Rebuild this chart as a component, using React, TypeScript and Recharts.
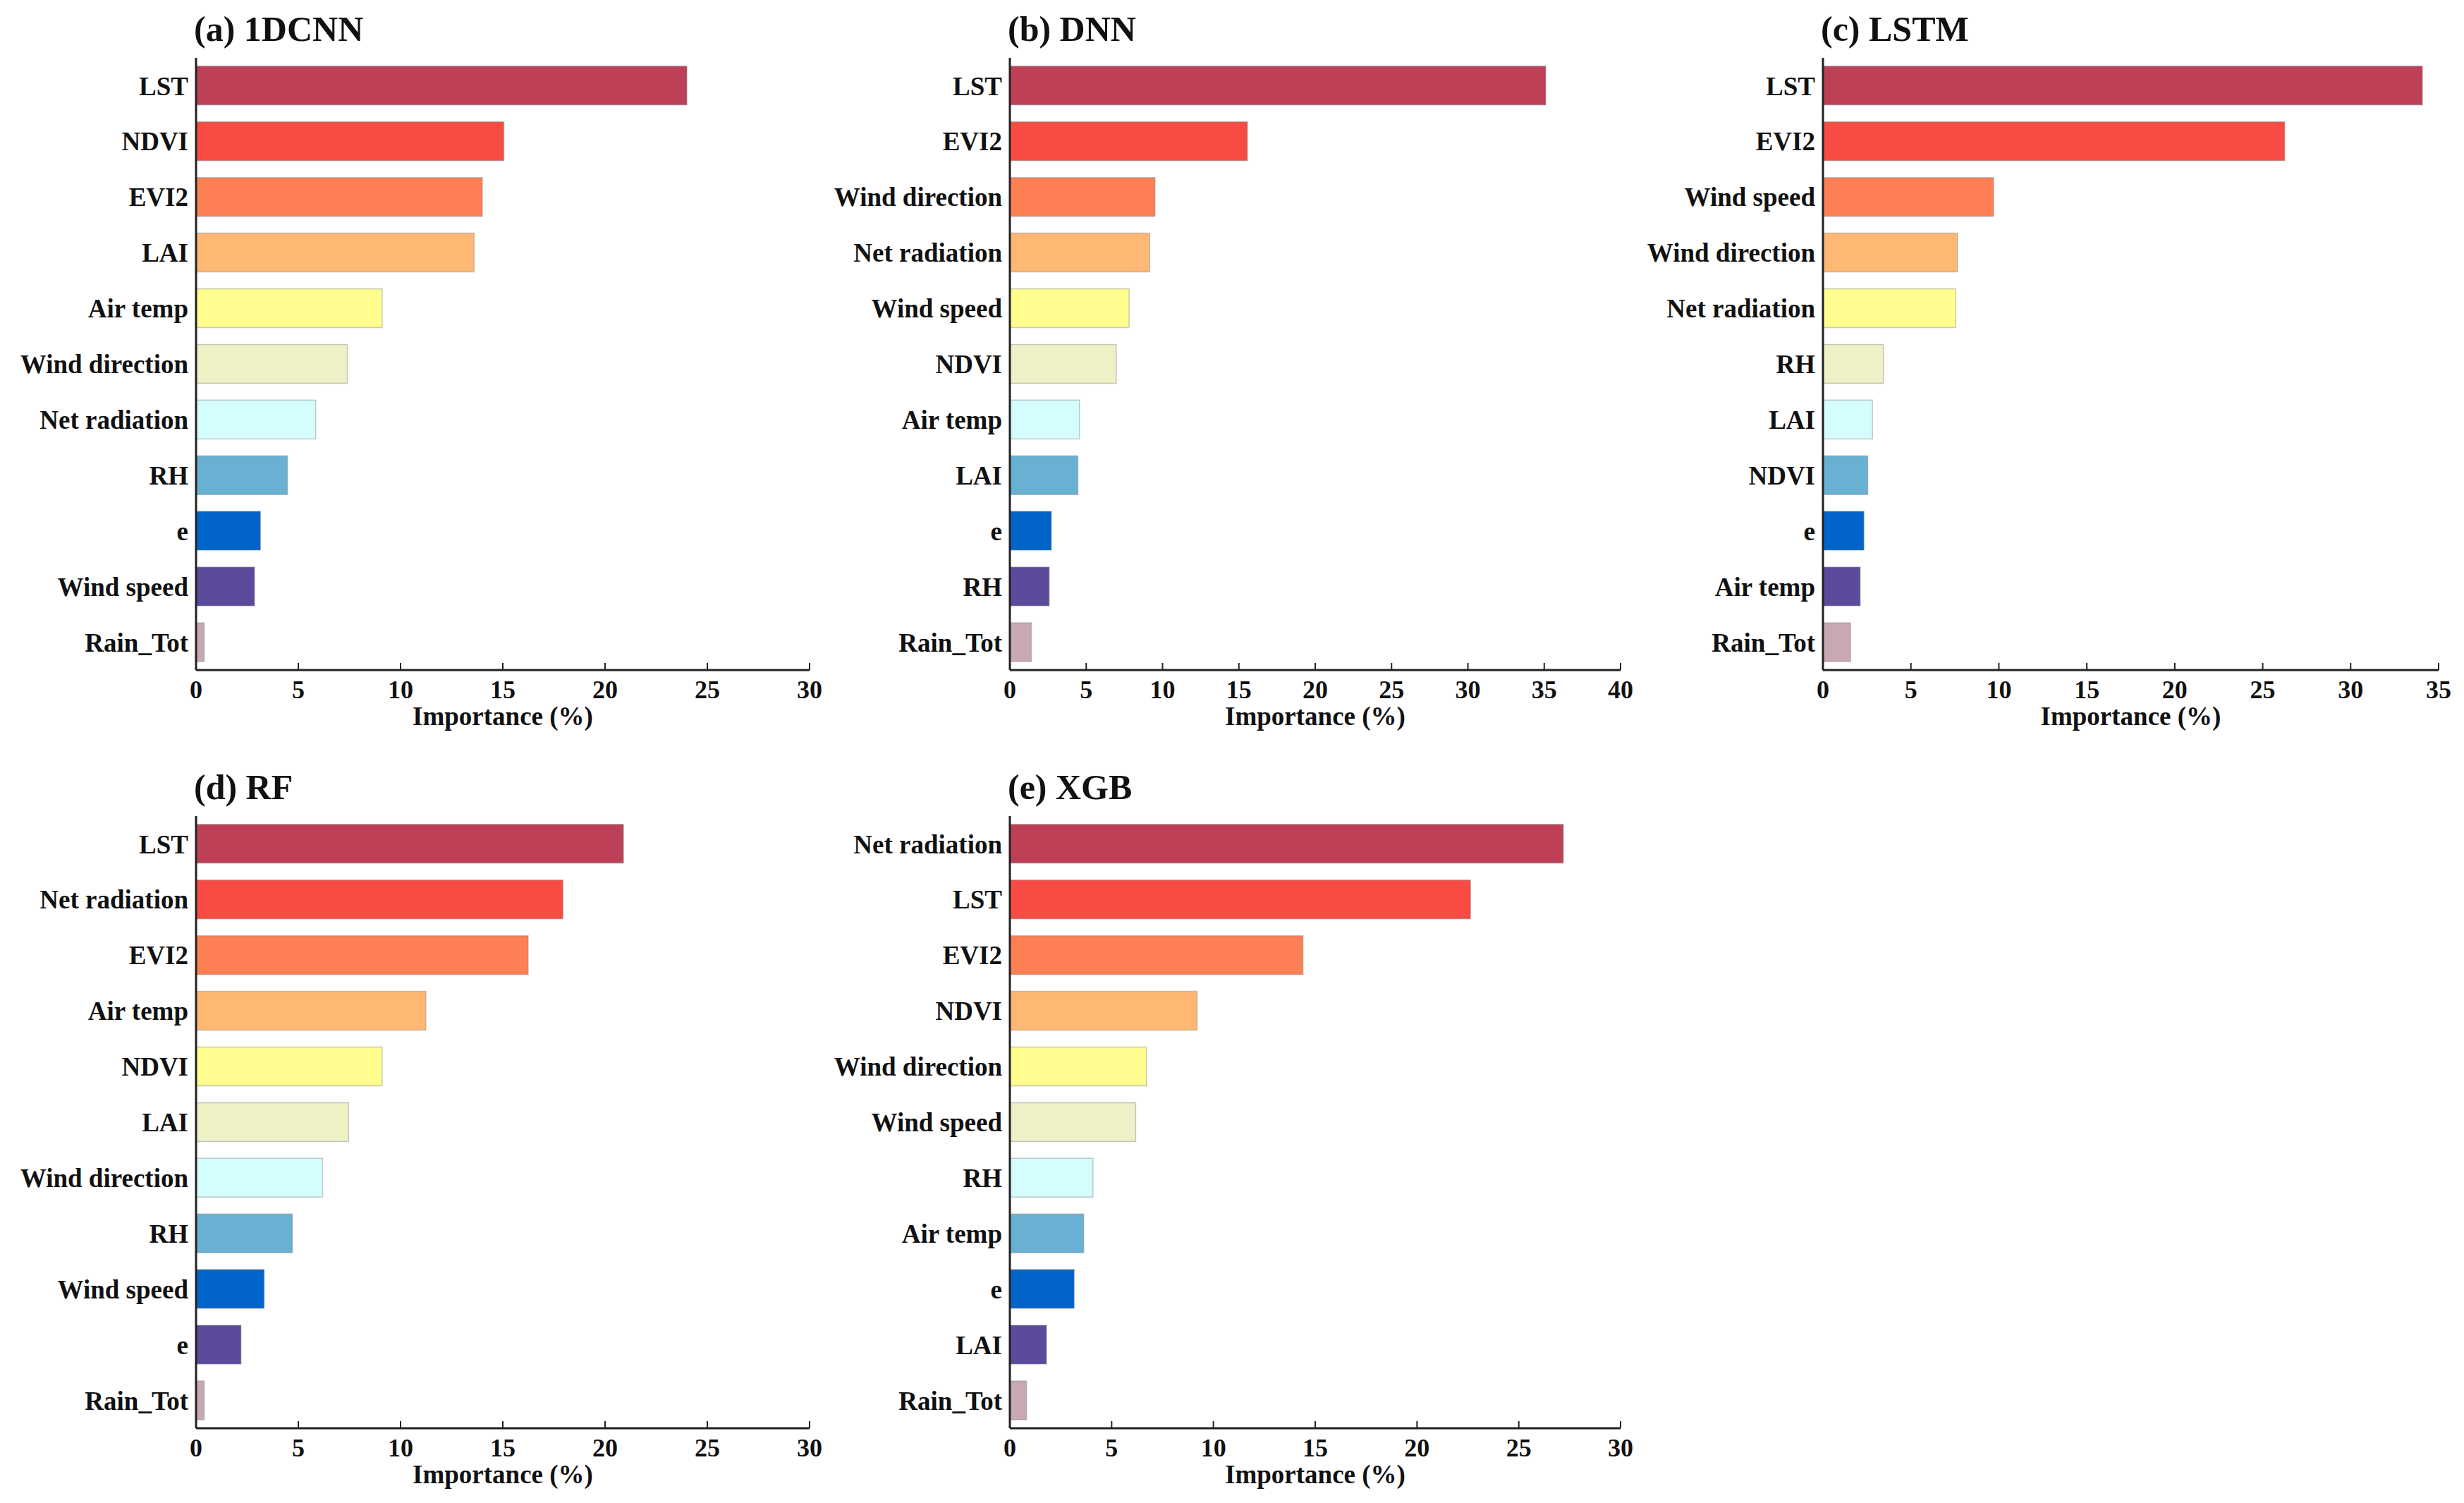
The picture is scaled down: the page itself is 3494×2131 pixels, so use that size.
import React from 'react';
import { BarChart, Bar, XAxis, YAxis, Cell, Label } from 'recharts';

const FONT = "'Liberation Serif', 'Times New Roman', serif";

// colours by rank (top bar first)
const rankColors = [
  '#BE4057', '#F84B43', '#FE7F54', '#FFB874', '#FFFE8E', '#EEF0C6',
  '#D4FEFE', '#68B1D2', '#0064CA', '#5C4A9D', '#C9A9B1',
];

// (a) 1DCNN
const cnnFeatures = ['LST', 'NDVI', 'EVI2', 'LAI', 'Air temp', 'Wind direction', 'Net radiation', 'RH', 'e', 'Wind speed', 'Rain_Tot'];
const cnnValues = [24.0, 15.05, 14.0, 13.6, 9.1, 7.4, 5.85, 4.47, 3.15, 2.86, 0.4];
const cnnTicks = [0, 5, 10, 15, 20, 25, 30];

// (b) DNN
const dnnFeatures = ['LST', 'EVI2', 'Wind direction', 'Net radiation', 'Wind speed', 'NDVI', 'Air temp', 'LAI', 'e', 'RH', 'Rain_Tot'];
const dnnValues = [35.1, 15.56, 9.51, 9.16, 7.81, 6.97, 4.56, 4.46, 2.72, 2.58, 1.41];
const dnnTicks = [0, 5, 10, 15, 20, 25, 30, 35, 40];

// (c) LSTM
const lstmFeatures = ['LST', 'EVI2', 'Wind speed', 'Wind direction', 'Net radiation', 'RH', 'LAI', 'NDVI', 'e', 'Air temp', 'Rain_Tot'];
const lstmValues = [34.08, 26.25, 9.7, 7.65, 7.55, 3.44, 2.82, 2.55, 2.33, 2.12, 1.57];
const lstmTicks = [0, 5, 10, 15, 20, 25, 30, 35];

// (d) RF
const rfFeatures = ['LST', 'Net radiation', 'EVI2', 'Air temp', 'NDVI', 'LAI', 'Wind direction', 'RH', 'Wind speed', 'e', 'Rain_Tot'];
const rfValues = [20.9, 17.94, 16.24, 11.24, 9.1, 7.46, 6.19, 4.71, 3.33, 2.2, 0.4];
const rfTicks = [0, 5, 10, 15, 20, 25, 30];

// (e) XGB
const xgbFeatures = ['Net radiation', 'LST', 'EVI2', 'NDVI', 'Wind direction', 'Wind speed', 'RH', 'Air temp', 'e', 'LAI', 'Rain_Tot'];
const xgbValues = [27.19, 22.63, 14.4, 9.2, 6.71, 6.18, 4.08, 3.63, 3.16, 1.8, 0.82];
const xgbTicks = [0, 5, 10, 15, 20, 25, 30];

const axisLabel = 'Importance (%)';

type PanelProps = {
  title: string;
  features: string[];
  values: number[];
  ticks: number[];
  plotX: number;
  plotY: number;
  plotW: number;
  plotH: number;
};

const Y_W = 270;
const TOP = 82;
const RIGHT = 40;
const X_H = 110;

function Panel({ title, features, values, ticks, plotX, plotY, plotW, plotH }: PanelProps) {
  const data = features.map((name, i) => ({ name, value: values[i] }));
  const width = Y_W + plotW + RIGHT;
  const height = TOP + plotH + X_H;
  const max = ticks[ticks.length - 1];
  return (
    <>
      <div
        style={{
          position: 'absolute',
          left: plotX - 3,
          top: plotY - 66,
          fontFamily: FONT,
          fontWeight: 'bold',
          fontSize: 50,
          lineHeight: '50px',
          color: '#111',
          whiteSpace: 'nowrap',
        }}
      >
        {title}
      </div>
      <div style={{ position: 'absolute', left: plotX - Y_W, top: plotY - TOP }}>
        <BarChart
          width={width}
          height={height}
          data={data}
          layout="vertical"
          margin={{ top: TOP, right: RIGHT, bottom: 0, left: 0 }}
          barCategoryGap="15%"
        >
          <XAxis
            type="number"
            dataKey="value"
            domain={[0, max]}
            ticks={ticks}
            interval={0}
            height={X_H}
            axisLine={{ stroke: '#222', strokeWidth: 3 }}
            tickLine={{ stroke: '#222', strokeWidth: 2 }}
            tickSize={-10}
            tickMargin={24}
            tick={{ fontFamily: FONT, fontWeight: 'bold', fontSize: 36, fill: '#111' }}
          >
            <Label
              value={axisLabel}
              position="insideTop"
              offset={52}
              style={{ fontFamily: FONT, fontWeight: 'bold', fontSize: 37, fill: '#111' }}
            />
          </XAxis>
          <XAxis
            xAxisId="top"
            orientation="top"
            type="number"
            domain={[0, max]}
            height={0}
            tick={false}
            tickLine={false}
            axisLine={{ stroke: '#222', strokeWidth: 3 }}
          />
          <YAxis
            type="category"
            dataKey="name"
            width={Y_W}
            interval={0}
            axisLine={{ stroke: '#222', strokeWidth: 3 }}
            tickLine={false}
            tickSize={0}
            tickMargin={11}
            tick={{ fontFamily: FONT, fontWeight: 'bold', fontSize: 37, fill: '#111' }}
          />
          <YAxis
            yAxisId="right"
            orientation="right"
            type="category"
            dataKey="name"
            width={0}
            tick={false}
            tickLine={false}
            axisLine={{ stroke: '#222', strokeWidth: 3 }}
          />
          <Bar
            dataKey="value"
            isAnimationActive={false}
            stroke="#8a8a8a"
            strokeOpacity={0.45}
            strokeWidth={1.5}
          >
            {data.map((d, i) => (
              <Cell key={d.name} fill={rankColors[i]} />
            ))}
          </Bar>
        </BarChart>
      </div>
    </>
  );
}

export default function App() {
  return (
    <div
      style={{
        position: 'absolute',
        left: 0,
        top: 0,
        width: 3494,
        height: 2131,
        background: '#fff',
        overflow: 'hidden',
      }}
    >
      <Panel title="(a) 1DCNN" features={cnnFeatures} values={cnnValues} ticks={cnnTicks} plotX={278} plotY={82} plotW={870} plotH={868} />
      <Panel title="(b) DNN" features={dnnFeatures} values={dnnValues} ticks={dnnTicks} plotX={1432} plotY={82} plotW={866} plotH={868} />
      <Panel title="(c) LSTM" features={lstmFeatures} values={lstmValues} ticks={lstmTicks} plotX={2585} plotY={82} plotW={873} plotH={868} />
      <Panel title="(d) RF" features={rfFeatures} values={rfValues} ticks={rfTicks} plotX={278} plotY={1157} plotW={870} plotH={868} />
      <Panel title="(e) XGB" features={xgbFeatures} values={xgbValues} ticks={xgbTicks} plotX={1432} plotY={1157} plotW={866} plotH={868} />
    </div>
  );
}
